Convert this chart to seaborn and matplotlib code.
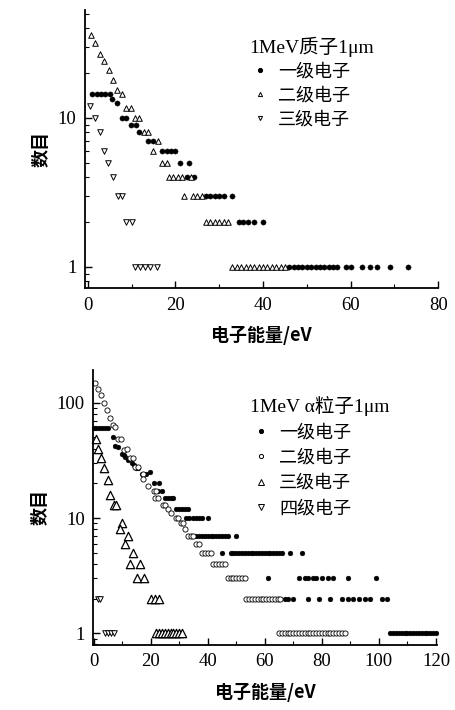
import numpy as np
import pandas as pd
import matplotlib
matplotlib.use("Agg")
import matplotlib.pyplot as plt
import seaborn as sns
from matplotlib.lines import Line2D
from matplotlib.ticker import FixedLocator, FixedFormatter, LogLocator, NullFormatter, MultipleLocator

sns.set_theme(style="white")
plt.rcParams['font.family'] = ['Liberation Serif', 'Noto Sans CJK SC', 'DejaVu Sans']
plt.rcParams['text.color'] = 'black'
plt.rcParams['axes.labelcolor'] = 'black'
plt.rcParams['xtick.color'] = 'black'
plt.rcParams['ytick.color'] = 'black'

# ---------------- data: top panel (1MeV proton) ----------------
top_title = "1MeV质子1μm"
top_labels = ["一级电子", "二级电子", "三级电子"]

top1_E = [1, 2, 3, 4, 5, 5.6, 6.7, 7.7, 8.7, 9.8, 11, 11.7, 13.8, 14.9,
          17, 18, 19, 20, 21, 23, 22.6, 24.3, 27, 28, 29, 30, 31, 33,
          34.5, 35.5, 36.5, 38, 40,
          46, 47, 48, 49, 50, 51, 52, 53, 54, 55, 56, 57, 59, 60, 62.5, 64.5, 66, 69, 73]
top1_N = [14.5, 14.5, 14.5, 14.5, 14.5, 13.4, 12.5, 10, 10, 9, 9, 8, 7, 7,
          6, 6, 6, 6, 5, 5, 4, 4, 3, 3, 3, 3, 3, 3,
          2, 2, 2, 2, 2,
          1, 1, 1, 1, 1, 1, 1, 1, 1, 1, 1, 1, 1, 1, 1, 1, 1, 1, 1]

top2_E = [0.7, 1.7, 2.7, 3.7, 4.8, 5.7, 6.6, 7.7, 8.8, 9.8, 10.7, 11.7, 12.9, 13.8,
          15.9, 14.9, 17, 18, 18.5, 19.5, 20.5, 21.5, 23.5, 22, 24, 25, 26,
          27, 28, 29, 30, 31, 32,
          33, 34, 35, 36, 37, 38, 39, 40, 41, 42, 43, 44, 45]
top2_N = [36, 32, 27, 24, 21, 18, 15.5, 14.5, 11.7, 11.7, 10, 10, 8, 8,
          7, 6, 5, 5, 4, 4, 4, 4, 4, 3, 3, 3, 3,
          2, 2, 2, 2, 2, 2,
          1, 1, 1, 1, 1, 1, 1, 1, 1, 1, 1, 1, 1]

top3_E = [0.5, 1.6, 2.7, 3.7, 4.6, 5.8, 6.9, 7.8, 8.8, 10, 10.7, 11.9, 13, 14.2, 15.7]
top3_N = [12, 10, 8, 6, 5, 4, 3, 3, 2, 2, 1, 1, 1, 1, 1]

# ---------------- data: bottom panel (1MeV alpha) ----------------
bot_title = "1MeV α粒子1μm"
bot_labels = ["一级电子", "二级电子", "三级电子", "四级电子"]

bot1_E = [0, 1, 2, 3, 4, 5, 6.7, 7.6, 8.4, 9.9, 10.5, 11, 11.9, 13.4, 14.2, 14.9, 15.7,
          16.9, 18.4, 19.8, 21, 23, 22.5, 24, 25, 26, 27, 28, 29, 30, 31, 32, 33,
          32.5, 33.5, 35, 36, 37, 38, 40,
          36, 37, 38, 39, 40, 41, 42, 43, 44, 45, 46, 47, 50,
          45, 48, 49, 50, 51, 52, 53, 54, 55, 56, 57, 58, 59, 60, 61, 62, 63, 64, 65, 66, 69, 73,
          61, 72, 74, 75, 77, 78, 80, 82, 84, 89, 99,
          67, 68, 70, 75, 79, 83, 87, 89, 91, 93, 95, 97, 101, 103,
          104, 105, 106, 107, 108, 109, 110, 111, 112, 113, 114, 115, 116, 117, 118, 119, 120]
bot1_N = [60, 60, 60, 60, 60, 60, 51, 42, 41, 36, 35, 34, 32, 30, 29, 27, 27,
          24, 24, 25, 20, 20, 17, 17, 15, 15, 15, 15, 12, 12, 12, 12, 12,
          10, 10, 10, 10, 10, 10, 10,
          7, 7, 7, 7, 7, 7, 7, 7, 7, 7, 7, 7, 7,
          5, 5, 5, 5, 5, 5, 5, 5, 5, 5, 5, 5, 5, 5, 5, 5, 5, 5, 5, 5, 5, 5,
          3, 3, 3, 3, 3, 3, 3, 3, 3, 3, 3,
          2, 2, 2, 2, 2, 2, 2, 2, 2, 2, 2, 2, 2, 2,
          1, 1, 1, 1, 1, 1, 1, 1, 1, 1, 1, 1, 1, 1, 1, 1, 1]

bot2_E = [0.6, 1.7, 2.6, 3.7, 4.7, 5.8, 6.7, 7.6, 8.7, 9.5, 10.7, 11.6, 12.6, 13.7,
          14.5, 15.7, 17.4, 17.2, 19.2, 21.2, 22, 21.5, 22.7, 24.2, 25, 26.2, 27.3,
          28.8, 29.7, 30.5, 31.2, 32, 33, 34, 35, 36, 37, 38, 39, 40, 41,
          42, 43, 44, 45, 46, 47, 48, 49, 50, 51, 52, 53,
          53.5, 54.5, 55.5, 56.5, 57.5, 58.5, 59.5, 60.5, 61.5, 62.5, 63.5, 64.5, 65.5,
          65, 66, 67, 68, 69, 70, 71, 72, 73, 74, 75, 76, 77, 78, 79, 80, 81, 82, 83,
          84, 85, 86, 87, 88]
bot2_N = [148, 132, 117, 99, 86, 74, 64, 62, 49, 49, 39, 40, 33, 33,
          28, 28, 24, 22, 19, 17, 17, 15, 15, 13, 13, 12, 11,
          10, 10, 9, 9, 8, 7, 7, 7, 6, 6, 5, 5, 5, 5,
          4, 4, 4, 4, 4, 3, 3, 3, 3, 3, 3, 3,
          2, 2, 2, 2, 2, 2, 2, 2, 2, 2, 2, 2, 2,
          1, 1, 1, 1, 1, 1, 1, 1, 1, 1, 1, 1, 1, 1, 1, 1, 1, 1, 1,
          1, 1, 1, 1, 1]

bot3_E = [0.9, 1.7, 2.6, 3.7, 4.9, 5.6, 7, 7.9, 9.9, 9.1, 11.9, 11, 13.7, 12.9, 16.1,
          15.2, 17.6, 20, 21.5, 23, 22, 23, 24, 25, 26, 27, 28, 29, 30, 31]
bot3_N = [49, 40, 33, 27, 21.5, 16, 13, 13, 9, 8, 7, 6, 5, 4, 4,
          3, 3, 2, 2, 2, 1, 1, 1, 1, 1, 1, 1, 1, 1, 1]

bot4_E = [1.5, 2.3, 4, 5, 6, 7]
bot4_N = [2, 2, 1, 1, 1, 1]

# ---------------- figure ----------------
fig = plt.figure(figsize=(4.56, 7.10), dpi=100)
ax1 = fig.add_axes([0.186, 0.594, 0.775, 0.392])
ax2 = fig.add_axes([0.204, 0.0915, 0.754, 0.3875])

cjk = ['Noto Sans CJK SC', 'DejaVu Sans']
mixed = ['Liberation Serif', 'Noto Sans CJK SC', 'DejaVu Sans']

def scatter(ax, E, N, marker, s, filled, lw=0.7):
    df = pd.DataFrame({"E": E, "N": N})
    if filled:
        sns.scatterplot(data=df, x="E", y="N", ax=ax, marker=marker, s=s,
                        color="black", edgecolor="black", linewidth=0.3, clip_on=False, legend=False)
    else:
        sns.scatterplot(data=df, x="E", y="N", ax=ax, marker=marker, s=s,
                        facecolor="white", edgecolor="black", linewidth=lw, clip_on=False, legend=False)

scatter(ax1, top1_E, top1_N, "o", 14, True)
scatter(ax1, top2_E, top2_N, "^", 16, False)
scatter(ax1, top3_E, top3_N, "v", 16, False)

scatter(ax2, bot1_E, bot1_N, "o", 12, True)
scatter(ax2, bot2_E, bot2_N, "o", 14, False, lw=0.6)
scatter(ax2, bot3_E, bot3_N, "^", 36, False, lw=0.9)
scatter(ax2, bot4_E, bot4_N, "v", 16, False)

def style(ax, xlim, ylim, xmajor, yticks):
    ax.set_yscale("log")
    ax.set_xlim(*xlim)
    ax.set_ylim(*ylim)
    ax.set_xticks(xmajor)
    ax.set_xticklabels([str(v) for v in xmajor])
    ax.xaxis.set_minor_locator(MultipleLocator(10))
    ax.yaxis.set_major_locator(FixedLocator(yticks))
    ax.yaxis.set_major_formatter(FixedFormatter([str(v) for v in yticks]))
    ax.yaxis.set_minor_locator(LogLocator(base=10, subs=np.arange(2, 10)))
    ax.yaxis.set_minor_formatter(NullFormatter())
    for sp in ["top", "right"]:
        ax.spines[sp].set_visible(False)
    for sp in ["left", "bottom"]:
        ax.spines[sp].set_color("black")
        ax.spines[sp].set_linewidth(1.3)
    ax.tick_params(which="major", direction="in", length=5, width=1, colors="black",
                   labelsize=13.5, pad=6, left=True, bottom=True)
    ax.tick_params(which="minor", direction="in", length=3, width=0.8, colors="black",
                   left=True, bottom=True)
    for lab in ax.get_xticklabels() + ax.get_yticklabels():
        lab.set_family(mixed)
    ax.set_xlabel("电子能量/eV", fontsize=13, fontweight="bold", family=cjk, labelpad=9,
                  color="black")
    ax.set_ylabel("数目", fontsize=13, fontweight="bold", family=cjk, labelpad=5,
                  color="black")
    ax.grid(False)

style(ax1, (-0.7, 80), (0.72, 53), [0, 20, 40, 60, 80], [1, 10])
style(ax2, (-0.2, 120.3), (0.79, 193), [0, 20, 40, 60, 80, 100, 120], [1, 10, 100])

def legend(ax, title, labels, specs, anchor, spacing):
    handles = []
    for (m, filled, ms) in specs:
        handles.append(Line2D([], [], ls="", marker=m, ms=ms, mec="black",
                              mfc="black" if filled else "white", mew=0.7))
    leg = ax.legend(handles, labels, title=title, loc="upper left", bbox_to_anchor=anchor,
                    frameon=False, prop={"family": cjk, "size": 13},
                    title_fontproperties={"family": mixed, "size": 14},
                    handletextpad=0.4, labelspacing=spacing, borderpad=0.2,
                    handlelength=1.2, alignment="left", labelcolor="black")
    leg.get_title().set_color("black")
    return leg

legend(ax1, top_title, top_labels, [("o", True, 3), ("^", False, 3), ("v", False, 3)],
       (0.43, 0.95), 0.32)
legend(ax2, bot_title, bot_labels,
       [("o", True, 3), ("o", False, 3), ("^", False, 4), ("v", False, 4)], (0.42, 0.95), 0.4)

fig.savefig("out.png", dpi=100, facecolor="white")
